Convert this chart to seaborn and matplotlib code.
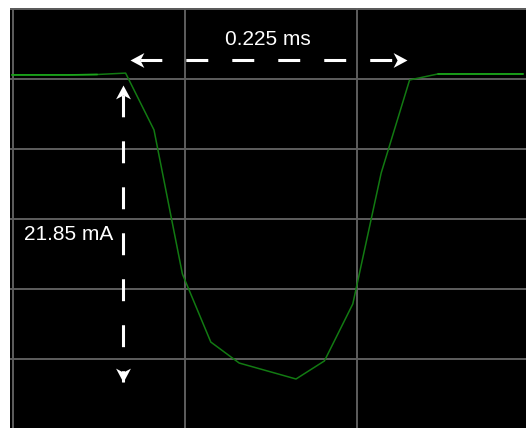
import numpy as np
import pandas as pd
import matplotlib
matplotlib.use("Agg")
import matplotlib.pyplot as plt
from matplotlib.path import Path
import seaborn as sns

# --- trace samples ---
time_ms = [0.0, 0.0225, 0.045, 0.0675, 0.09, 0.1125, 0.135, 0.1575, 0.18, 0.2025,
           0.225, 0.2475, 0.27, 0.2925, 0.315, 0.3375, 0.36, 0.3825, 0.405]
current_mA = [20.29, 20.29, 20.29, 20.32, 20.42, 16.36, 6.07, 1.21, -0.29, -0.86,
              -1.43, -0.14, 3.93, 13.29, 19.93, 20.36, 20.36, 20.36, 20.36]

# flat parts where the trace is drawn twice (shows brighter)
overlap_left = [0, 1, 2, 3]
overlap_right = [15, 16, 17, 18]

# scope graticule
grid_time_ms = [0.0008, 0.1371, 0.2734]
grid_current_mA = [0, 5, 10, 15, 20, 25]

df = pd.DataFrame({"t": time_ms, "i": current_mA})

sns.set_theme(style="dark", rc={
    "axes.facecolor": "black",
    "figure.facecolor": "white",
    "grid.color": "#5e5e5e",
    "grid.linewidth": 1.4,
    "lines.scale_dashes": False,
})
plt.rcParams["font.family"] = ["Liberation Sans", "DejaVu Sans"]

fig = plt.figure(figsize=(5.26, 4.28), dpi=100)
ax = fig.add_axes([10 / 526, 0, 516 / 526, 420 / 428])

sns.lineplot(data=df, x="t", y="i", color="#127a12", lw=1.1, ax=ax)
for idx in (overlap_left, overlap_right):
    sns.lineplot(data=df.iloc[idx], x="t", y="i", color="#1ba51b", lw=1.2, ax=ax)

ax.set_xlim(-0.00158, 0.40722)
ax.set_ylim(-4.93, 25.07)
ax.set_xticks(grid_time_ms)
ax.set_yticks(grid_current_mA)
ax.grid(True)
ax.set_axisbelow(True)
ax.tick_params(length=0, labelbottom=False, labelleft=False)
ax.set_xlabel("")
ax.set_ylabel("")
for s in ax.spines.values():
    s.set_visible(False)

# pulse width / depth measured from the data
cur = np.array(current_mA)
pk = int(np.argmax(cur))
lo = int(np.argmin(cur))
rec = lo + int(np.argmax(cur[lo:] >= 0.97 * cur[pk]))
span = time_ms[rec] - time_ms[pk]
depth = cur[pk] - cur[lo]


def head_marker(dx, dy):
    # notched arrow head with its tip at the marker origin
    body = [(0, 0), (-14, 7.5), (-10, 0), (-14, -7.5), (0, 0)]
    verts = [(x * dx - y * dy, x * dy + y * dx) for x, y in body]
    return Path(verts, [Path.MOVETO] + [Path.LINETO] * 3 + [Path.CLOSEPOLY])


def dashed_arrow(p0, p1):
    ax.plot([p0[0], p1[0]], [p0[1], p1[1]], color="white", lw=2.2,
            linestyle=(26, (15.8, 17.3)), dash_capstyle="butt")
    if p0[1] == p1[1]:
        dirs = ((p0, (-1, 0)), (p1, (1, 0)))
    else:
        dirs = ((p0, (0, 1)), (p1, (0, -1)))
    for tip, (dx, dy) in dirs:
        ax.plot([tip[0]], [tip[1]], marker=head_marker(dx, dy), ms=20,
                mew=0, color="white", linestyle="none")


y_h = cur[pk] + 0.94
dashed_arrow((time_ms[pk] + 0.0035, y_h), (time_ms[rec] - 0.002, y_h))
ax.annotate(f"{span:.3f} ms", xy=((time_ms[pk] + time_ms[rec]) / 2, y_h),
            xytext=(0, 15), textcoords="offset points",
            ha="center", va="center", color="white", fontsize=15)

x_v = time_ms[pk] - 0.002
top, bot = cur[pk] - 0.85, cur[lo] - 0.2
dashed_arrow((x_v, top), (x_v, bot))
ax.annotate(f"{depth:.2f} mA", xy=(x_v, (top + bot) / 2),
            xytext=(-7, -1), textcoords="offset points",
            ha="right", va="center", color="white", fontsize=15)

fig.savefig("out.png", dpi=100, facecolor="white")
